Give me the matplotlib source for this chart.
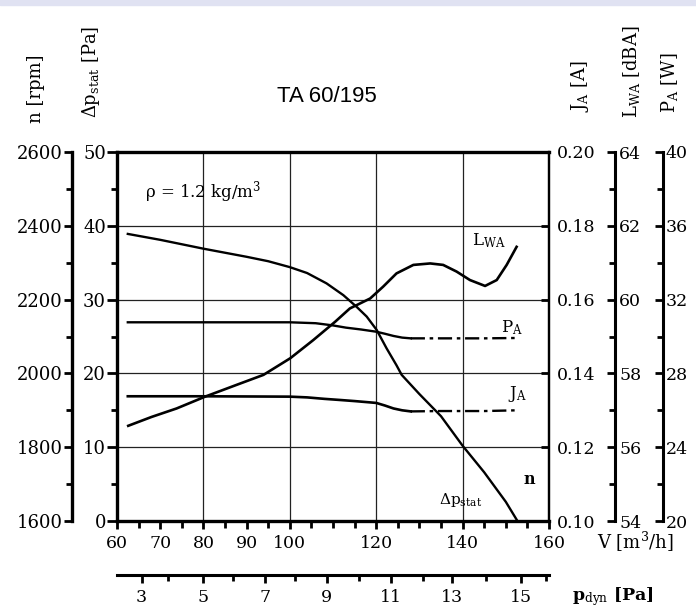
# TA 60/195 팬 특성 곡선 재현
import matplotlib
matplotlib.use("Agg")
import matplotlib.pyplot as plt
from matplotlib.ticker import MultipleLocator, FixedLocator, FormatStrFormatter
from matplotlib.patches import Rectangle
import numpy as np

plt.rcParams['font.family'] = ['DejaVu Serif']
plt.rcParams['mathtext.fontset'] = 'dejavuserif'

# 풍량 V [m3/h] 와 각 곡선 값
dp_v = [62.5, 70, 80, 90, 95, 100, 104, 108.5, 112.4, 115.5, 117.8, 120.1, 122.4,
        124.7, 125.9, 130, 135, 140, 145, 150, 152.7]
dp_stat = [38.9, 38.1, 36.9, 35.8, 35.2, 34.4, 33.6, 32.2, 30.6, 29.0, 27.7, 25.9, 23.4,
           21.1, 19.8, 17.2, 14.2, 10.2, 6.6, 2.6, 0.0]

lwa_v = [62.6, 68, 73.8, 80.4, 87.7, 93.9, 100.1, 105.4, 110.5, 113.9, 118.6, 121.6,
         124.7, 128.6, 132.5, 135.5, 138.6, 141.7, 145.2, 147.9, 150.2, 152.5]
lwa = [56.58, 56.82, 57.05, 57.37, 57.69, 57.96, 58.41, 58.90, 59.40, 59.76, 60.03, 60.35,
       60.71, 60.94, 60.98, 60.94, 60.76, 60.53, 60.37, 60.53, 60.94, 61.43]

pa_v = [62.5, 80, 100, 106, 110, 113, 116.5, 120, 122, 124, 126, 128, 135, 145, 152.7]
pa_w = [30.77, 30.77, 30.77, 30.72, 30.60, 30.48, 30.38, 30.26, 30.15, 30.03, 29.94, 29.90,
        29.90, 29.90, 29.92]

ja_v = [62.5, 80, 100, 104, 108, 111.6, 115, 120, 122, 124, 126, 128, 135, 145, 152.7]
ja_a = [0.1338, 0.1338, 0.1337, 0.1335, 0.1331, 0.1328, 0.1325, 0.1320, 0.1313, 0.1305,
        0.1300, 0.1297, 0.1298, 0.1298, 0.1300]

# 하단 동압 눈금 (pdyn 값과 대응하는 V 위치)
pdyn_vals = [3, 4, 5, 6, 7, 8, 9, 10, 11, 12, 13, 14, 15, 16]
pdyn_at_v = [65.7, 71.8, 80.0, 86.9, 94.3, 101.2, 108.5, 116.1, 123.4, 130.8, 137.5, 145.4, 153.5, 159.3]

v_labels = [60, 70, 80, 90, 100, 120, 140, 160]

W, H = 696, 612
fig = plt.figure(figsize=(W / 100, H / 100), dpi=100)
fig.patches.append(Rectangle((0, 1 - 5 / H), 1, 5 / H, transform=fig.transFigure,
                             color='#e0e2f2', zorder=0))

ax = fig.add_axes([117 / W, 1 - 521 / H, 432 / W, 369 / H])
ax.set_xlim(60, 160)
ax.set_ylim(0, 50)

# 격자
for gx in [80, 100, 120, 140]:
    ax.axvline(gx, color='#222222', lw=0.9, zorder=1)
for gy in [10, 20, 30, 40]:
    ax.axhline(gy, color='#222222', lw=0.9, zorder=1)

for s in ['left', 'bottom', 'top']:
    ax.spines[s].set_linewidth(2.4)
ax.spines['right'].set_linewidth(1.6)

ax.yaxis.set_major_locator(MultipleLocator(10))
ax.yaxis.set_minor_locator(MultipleLocator(5))
ax.tick_params(axis='y', which='major', direction='out', length=7, width=2, labelsize=13, pad=1)
ax.tick_params(axis='y', which='minor', direction='out', length=4, width=2)
ax.xaxis.set_major_locator(FixedLocator(v_labels))
ax.xaxis.set_minor_locator(MultipleLocator(5))
ax.set_xticklabels([str(v) for v in v_labels])
ax.tick_params(axis='x', which='major', direction='out', length=6, width=2, labelsize=12.5, pad=4)
ax.tick_params(axis='x', which='minor', direction='out', length=5, width=2)

# n 축 (왼쪽 바깥)
ax_n = ax.twinx()
ax_n.set_ylim(1600, 2600)
ax_n.spines['left'].set_position(('axes', -0.104))
ax_n.spines['left'].set_visible(True)
ax_n.spines['left'].set_linewidth(2.4)
ax_n.spines['right'].set_visible(False)
ax_n.spines['top'].set_visible(False)
ax_n.spines['bottom'].set_visible(False)
ax_n.yaxis.set_ticks_position('left')
ax_n.yaxis.set_major_locator(MultipleLocator(200))
ax_n.yaxis.set_minor_locator(MultipleLocator(100))
ax_n.tick_params(axis='y', which='major', direction='out', length=6, width=2, labelsize=13, pad=1)
ax_n.tick_params(axis='y', which='minor', direction='out', length=4, width=2)

# J_A 축 (오른쪽)
ax_j = ax.twinx()
ax_j.set_ylim(0.10, 0.20)
for s in ['left', 'top', 'bottom']:
    ax_j.spines[s].set_visible(False)
ax_j.spines['right'].set_linewidth(1.6)
ax_j.yaxis.set_major_locator(MultipleLocator(0.02))
ax_j.yaxis.set_major_formatter(FormatStrFormatter('%.2f'))
ax_j.tick_params(axis='y', which='major', direction='in', length=6, width=2, labelsize=12.5, pad=6)

# L_WA 축
ax_l = ax.twinx()
ax_l.set_ylim(54, 64)
ax_l.spines['right'].set_position(('axes', 1.153))
for s in ['left', 'top', 'bottom']:
    ax_l.spines[s].set_visible(False)
ax_l.spines['right'].set_linewidth(2.2)
ax_l.yaxis.set_major_locator(MultipleLocator(2))
ax_l.yaxis.set_minor_locator(MultipleLocator(1))
ax_l.tick_params(axis='y', which='major', direction='in', length=6, width=2, labelsize=12.5, pad=3)
ax_l.tick_params(axis='y', which='minor', direction='in', length=4, width=2)

# P_A 축
ax_p = ax.twinx()
ax_p.set_ylim(20, 40)
ax_p.spines['right'].set_position(('axes', 1.264))
for s in ['left', 'top', 'bottom']:
    ax_p.spines[s].set_visible(False)
ax_p.spines['right'].set_linewidth(2.2)
ax_p.yaxis.set_major_locator(MultipleLocator(4))
ax_p.yaxis.set_minor_locator(MultipleLocator(2))
ax_p.tick_params(axis='y', which='major', direction='in', length=6, width=2, labelsize=12.5, pad=2)
ax_p.tick_params(axis='y', which='minor', direction='in', length=4, width=2)

# 곡선
ax.plot(dp_v, dp_stat, color='black', lw=1.7, zorder=3)
ax_l.plot(lwa_v, lwa, color='black', lw=1.9, zorder=3)

pa_v_arr, pa_arr = np.array(pa_v), np.array(pa_w)
ja_v_arr, ja_arr = np.array(ja_v), np.array(ja_a)
ax_p.plot(pa_v_arr[pa_v_arr <= 128], pa_arr[pa_v_arr <= 128], color='black', lw=1.7)
ax_p.plot(pa_v_arr[pa_v_arr >= 128], pa_arr[pa_v_arr >= 128], color='black', lw=1.7,
          dashes=(6, 2, 1.5, 2))
ax_j.plot(ja_v_arr[ja_v_arr <= 128], ja_arr[ja_v_arr <= 128], color='black', lw=1.9)
ax_j.plot(ja_v_arr[ja_v_arr >= 128], ja_arr[ja_v_arr >= 128], color='black', lw=1.7,
          dashes=(6, 2, 1.5, 2))

# 곡선 라벨
ax.text(66.5, 44.6, 'ρ = 1.2 kg/m$^3$', fontsize=12, va='center', ha='left')
ax.text(142.2, 38.0, r'L$_{\rm WA}$', fontsize=12, va='center', ha='left')
ax.text(148.9, 26.2, r'P$_{\rm A}$', fontsize=12, va='center', ha='left')
ax.text(150.5, 17.2, r'J$_{\rm A}$', fontsize=12, va='center', ha='left')
ax.text(154.0, 5.6, 'n', fontsize=11.5, fontweight='bold', va='center', ha='left')
ax.text(134.5, 2.8, r'$\Delta$p$_{\rm stat}$', fontsize=11, va='center', ha='left')

# 하단 동압 축
sec = ax.secondary_xaxis(-0.146)
sec.spines['bottom'].set_linewidth(2.2)
sec.xaxis.set_major_locator(FixedLocator(pdyn_at_v[0:13:2]))
sec.set_xticklabels([str(p) for p in pdyn_vals[0:13:2]])
sec.xaxis.set_minor_locator(FixedLocator(pdyn_at_v[1::2]))
sec.tick_params(axis='x', which='major', direction='out', length=6, width=2, labelsize=12.5, pad=4)
sec.tick_params(axis='x', which='minor', direction='out', length=4, width=2)

# 축 제목
fig.text(327 / W, 1 - 96 / H, 'TA 60/195', family='Liberation Sans', fontsize=16,
         ha='center', va='center')
fig.text(36 / W, 1 - 123 / H, 'n [rpm]', rotation=90, fontsize=13, ha='center', va='bottom')
fig.text(91 / W, 1 - 118 / H, r'$\Delta$p$_{\rm stat}$ [Pa]', rotation=90, fontsize=13,
         ha='center', va='bottom')
fig.text(580 / W, 1 - 112 / H, r'J$_{\rm A}$ [A]', rotation=90, fontsize=13, ha='center', va='bottom')
fig.text(631 / W, 1 - 118 / H, r'L$_{\rm WA}$ [dBA]', rotation=90, fontsize=13, ha='center', va='bottom')
fig.text(669 / W, 1 - 113 / H, r'P$_{\rm A}$ [W]', rotation=90, fontsize=13, ha='center', va='bottom')
fig.text(597 / W, 1 - 542 / H, r'V [m$^3$/h]', fontsize=13, ha='left', va='center')
fig.text(572 / W, 1 - 597 / H, r'p$_{\rm dyn}$ [Pa]', fontsize=12.5, fontweight='bold',
         ha='left', va='center')

fig.savefig('out.png', dpi=100)
